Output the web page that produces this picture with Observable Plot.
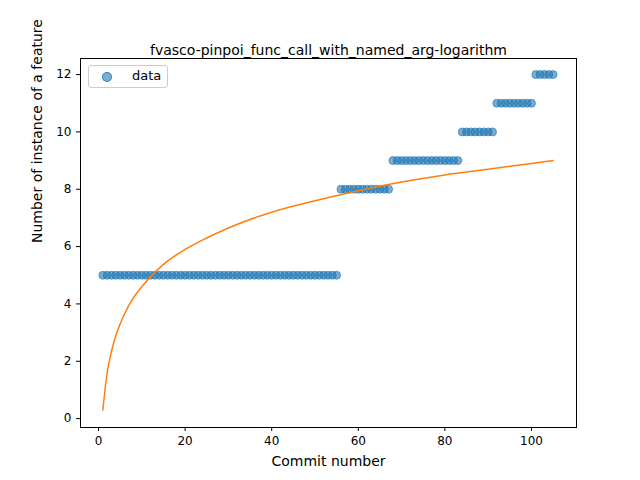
<!DOCTYPE html>
<html><head><meta charset="utf-8">
<script src="https://cdn.jsdelivr.net/npm/d3@7"></script>
<script src="https://cdn.jsdelivr.net/npm/@observablehq/plot@0.6"></script>
<style>body{margin:0;background:#fff;font-family:"DejaVu Sans",sans-serif}#wrap{position:relative;width:640px;height:480px}
#leg{position:absolute;left:88px;top:65px;width:80px;height:23px;border:1px solid #ccc;border-radius:3px;background:#fff;font-size:13px;box-sizing:border-box}
#leg span.d{position:absolute;left:13px;top:6px;width:8px;height:8px;border-radius:50%;background:rgba(31,119,180,0.6);border:1px solid rgba(31,119,180,0.8)}
#leg span.t{position:absolute;left:43px;top:2px}</style>
</head><body><div id="wrap"><div id="leg"><span class="d"></span><span class="t">data</span></div></div>
<script>
const commits = [];
const counts = [
5,5,5,5,5,5,5,5,5,5,5,5,5,5,5,5,5,5,5,5,5,5,5,5,5,5,5,5,5,5,5,5,5,5,5,5,5,5,5,5,5,5,5,5,5,5,5,5,5,5,5,5,5,5,5,
8,8,8,8,8,8,8,8,8,8,8,8,
9,9,9,9,9,9,9,9,9,9,9,9,9,9,9,9,
10,10,10,10,10,10,10,10,
11,11,11,11,11,11,11,11,11,
12,12,12,12,12];
counts.forEach((c,i)=>commits.push(i+1));
const fitX = [1,2,3,4,5,6,8,10,13,16,20,25,30,40,50,60,70,80,90,100,105];
const fitY = [0.3,1.6,2.35,2.9,3.3,3.65,4.2,4.6,5.1,5.5,5.9,6.3,6.65,7.2,7.6,7.95,8.25,8.5,8.7,8.9,9.0];
const pts = commits.map((x,i)=>({x,y:counts[i]}));
const fit = fitX.map((x,i)=>({x,y:fitY[i]}));
const chart = Plot.plot({
  width:640,height:480,marginLeft:80,marginRight:64,marginTop:58,marginBottom:53,
  style:{fontFamily:"DejaVu Sans",fontSize:"12px",color:"#000"},
  x:{domain:[-4.16,110.4],ticks:[0,20,40,60,80,100],tickSize:4,label:null},
  y:{domain:[-0.31,12.56],ticks:[0,2,4,6,8,10,12],tickSize:4,label:null},
  marks:[
    Plot.frame({stroke:"#000"}),
    Plot.dot(pts,{x:"x",y:"y",r:4,fill:"#1f77b4",fillOpacity:0.6,stroke:"#1f77b4",strokeOpacity:0.6,strokeWidth:1}),
    Plot.line(fit,{x:"x",y:"y",stroke:"#ff7f0e",strokeWidth:1.5,curve:"monotone-x"}),
    Plot.text(["fvasco-pinpoi_func_call_with_named_arg-logarithm"],{frameAnchor:"top",dy:-13,fontSize:14}),
    Plot.text(["Commit number"],{frameAnchor:"bottom",dy:38,fontSize:14}),
    Plot.text(["Number of instance of a feature"],{frameAnchor:"left",dx:-43,rotate:-90,fontSize:14})
  ]
});
document.getElementById("wrap").prepend(chart);
</script></body></html>
